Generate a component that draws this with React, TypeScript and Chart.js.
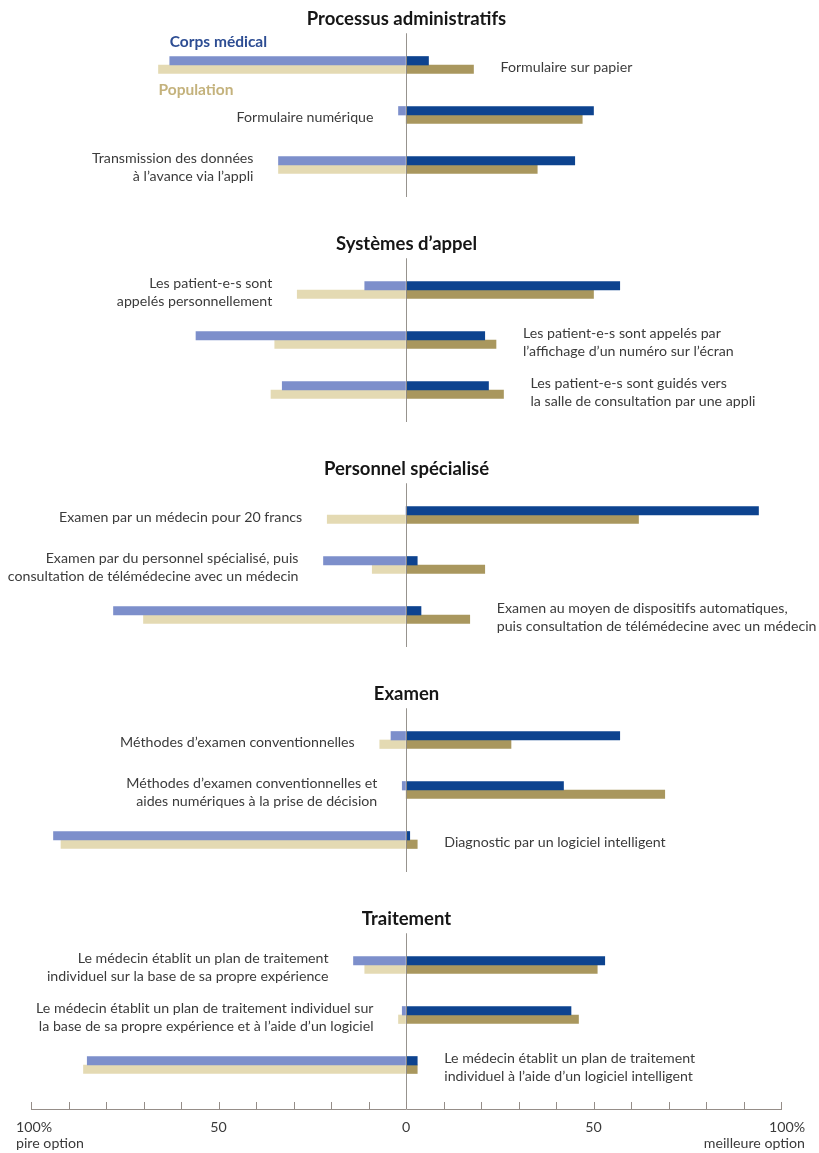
import { useEffect, useRef } from "react";
import { Chart, registerables } from "chart.js";

Chart.register(...registerables);

const sectionTitles = [
  "Processus administratifs",
  "Systèmes d’appel",
  "Personnel spécialisé",
  "Examen",
  "Traitement",
];

// three options per section, in order
const optionLabels = [
  ["Formulaire sur papier"],
  ["Formulaire numérique"],
  ["Transmission des données", "à l’avance via l’appli"],
  ["Les patient-e-s sont", "appelés personnellement"],
  ["Les patient-e-s sont appelés par", "l’affichage d’un numéro sur l’écran"],
  ["Les patient-e-s sont guidés vers", "la salle de consultation par une appli"],
  ["Examen par un médecin pour 20 francs"],
  ["Examen par du personnel spécialisé, puis", "consultation de télémédecine avec un médecin"],
  ["Examen au moyen de dispositifs automatiques,", "puis consultation de télémédecine avec un médecin"],
  ["Méthodes d’examen conventionnelles"],
  ["Méthodes d’examen conventionnelles et", "aides numériques à la prise de décision"],
  ["Diagnostic par un logiciel intelligent"],
  ["Le médecin établit un plan de traitement", "individuel sur la base de sa propre expérience"],
  ["Le médecin établit un plan de traitement individuel sur", "la base de sa propre expérience et à l’aide d’un logiciel"],
  ["Le médecin établit un plan de traitement", "individuel à l’aide d’un logiciel intelligent"],
];

// % naming the option as the worst / the best one
const medWorst = [63, 2, 34, 11, 56, 33, 0, 22, 78, 4, 1, 94, 14, 1, 85];
const medBest = [6, 50, 45, 57, 21, 22, 94, 3, 4, 57, 42, 1, 53, 44, 3];
const popWorst = [66, 0, 34, 29, 35, 36, 21, 9, 70, 7, 0, 92, 11, 2, 86];
const popBest = [18, 47, 35, 50, 24, 26, 62, 21, 17, 28, 69, 3, 51, 46, 3];

const legendLabels = ["Corps médical", "Population"];

// which side of the bars each option's text sits on
const labelSide = ["R", "L", "L", "L", "R", "R", "L", "L", "R", "L", "L", "R", "L", "L", "R"];

const COLORS = {
  medLight: "#7d8fcb",
  medDark: "#0d438f",
  popLight: "#e4dab3",
  popDark: "#a9975e",
  medText: "#2d4d93",
  popText: "#c4b27c",
  text: "#3b3b3b",
  title: "#161616",
  axis: "#958d88",
};

const FONT = "Lato";

// rows on the y scale: each section takes 9 rows, options on rows 2, 4, 6
const rowOf = (i: number) => Math.floor(i / 3) * 9 + 2 + (i % 3) * 2;

const toPoints = (vals: number[], sign: number) =>
  vals.map((v, i) => ({ x: sign * v, y: rowOf(i) }));

const annotations = {
  id: "annotations",
  afterDatasetsDraw(chart: any) {
    const { ctx, chartArea, scales } = chart;
    const x = scales.x;
    const y = scales.y;
    const zero = Math.round(x.getPixelForValue(0)) + 0.5;
    const metas = [0, 1, 2, 3].map((i) => chart.getDatasetMeta(i));

    ctx.save();

    // titles and the centre line, broken around each title
    sectionTitles.forEach((title, s) => {
      const ty = y.getPixelForValue(s * 9 + 0.17);
      const lastRow = y.getPixelForValue(rowOf(s * 3 + 2));
      const bottom = s === sectionTitles.length - 1 ? chartArea.bottom : lastRow + 32;
      ctx.strokeStyle = "rgba(140,135,130,0.9)";
      ctx.lineWidth = 1;
      ctx.beginPath();
      ctx.moveTo(zero, ty + 14);
      ctx.lineTo(zero, bottom);
      ctx.stroke();

      ctx.fillStyle = COLORS.title;
      ctx.font = `bold 18.5px ${FONT}`;
      ctx.textAlign = "center";
      ctx.textBaseline = "middle";
      ctx.fillText(title, zero, ty);
    });

    // option labels
    ctx.font = `14.2px ${FONT}`;
    ctx.fillStyle = COLORS.text;
    ctx.textBaseline = "middle";
    optionLabels.forEach((lines, i) => {
      const [mw, mb, pw, pb] = metas.map((m) => m.data[i]);
      const cy = y.getPixelForValue(rowOf(i)) + 2;
      const left = Math.min(mw.x, pw.x, zero);
      const right = Math.max(mb.x, pb.x, zero);
      const lh = 18;
      const y0 = cy - ((lines.length - 1) * lh) / 2;
      if (labelSide[i] === "L") {
        ctx.textAlign = "right";
        lines.forEach((t, k) => ctx.fillText(t, left - 25, y0 + k * lh));
      } else {
        ctx.textAlign = "left";
        lines.forEach((t, k) => ctx.fillText(t, right + 27, y0 + k * lh));
      }
    });

    // legend, attached to the first option's bars
    const first = y.getPixelForValue(rowOf(0));
    ctx.font = `bold 15.5px ${FONT}`;
    ctx.textAlign = "left";
    ctx.fillStyle = COLORS.medText;
    ctx.fillText(legendLabels[0], metas[0].data[0].x, first - 23);
    ctx.fillStyle = COLORS.popText;
    ctx.fillText(legendLabels[1], metas[2].data[0].x, first + 25);

    // upward tick marks on the bottom axis
    ctx.strokeStyle = COLORS.axis;
    ctx.lineWidth = 1;
    x.ticks.forEach((t: any) => {
      const px = Math.round(x.getPixelForValue(t.value)) + 0.5;
      ctx.beginPath();
      ctx.moveTo(px, chartArea.bottom - 7);
      ctx.lineTo(px, chartArea.bottom);
      ctx.stroke();
    });

    // end labels of the axis
    ctx.font = `14.2px ${FONT}`;
    ctx.fillStyle = COLORS.text;
    const ly = chartArea.bottom + 18;
    ctx.textAlign = "left";
    const lx = x.getPixelForValue(-100) - 15;
    ctx.fillText("100%", lx, ly);
    ctx.fillText("pire option", lx, ly + 16);
    ctx.textAlign = "right";
    const rx = x.getPixelForValue(100) + 24;
    ctx.fillText("100%", rx, ly);
    ctx.fillText("meilleure option", rx, ly + 16);

    ctx.restore();
  },
};

export default function App() {
  const canvasRef = useRef<HTMLCanvasElement>(null);

  useEffect(() => {
    document.body.style.margin = "0";
    if (!canvasRef.current) return;

    const bar = (label: string, data: any[], color: string, stack: string) => ({
      label,
      data,
      backgroundColor: color,
      borderWidth: 0,
      stack,
      barThickness: 8.5,
    });

    const chart = new Chart(canvasRef.current, {
      type: "bar",
      data: {
        datasets: [
          bar("Corps médical – pire", toPoints(medWorst, -1), COLORS.medLight, "med"),
          bar("Corps médical – meilleure", toPoints(medBest, 1), COLORS.medDark, "med"),
          bar("Population – pire", toPoints(popWorst, -1), COLORS.popLight, "pop"),
          bar("Population – meilleure", toPoints(popBest, 1), COLORS.popDark, "pop"),
        ],
      },
      options: {
        indexAxis: "y",
        animation: false,
        responsive: true,
        maintainAspectRatio: false,
        layout: { padding: { left: 31, right: 38, top: 15, bottom: 18 } },
        plugins: {
          legend: { display: false },
          tooltip: { enabled: false },
        },
        scales: {
          x: {
            type: "linear",
            min: -100,
            max: 100,
            stacked: true,
            border: { display: true, color: COLORS.axis, width: 1 },
            grid: { drawOnChartArea: false, drawTicks: false },
            afterFit: (s: any) => {
              s.height = 26;
            },
            ticks: {
              stepSize: 10,
              autoSkip: false,
              maxRotation: 0,
              padding: 10,
              color: COLORS.text,
              font: { family: FONT, size: 14.2, lineHeight: 16 / 14.2 },
              callback: (v: any) =>
                Math.abs(v) === 50 ? "50" : v === 0 ? "0" : "",
            },
          },
          y: {
            type: "linear",
            reverse: true,
            offset: false,
            min: 0,
            max: 43.76,
            display: false,
          },
        },
      },
      plugins: [annotations],
    });

    return () => chart.destroy();
  }, []);

  return (
    <div style={{ position: "relative", width: 819, height: 1153, background: "#fff" }}>
      <canvas ref={canvasRef}></canvas>
    </div>
  );
}
